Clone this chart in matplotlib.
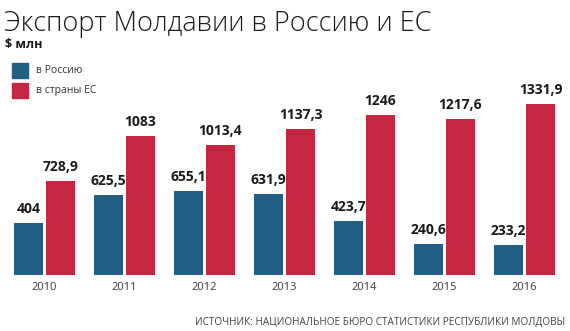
import matplotlib.pyplot as plt
import numpy as np

# данные
years = ['2010', '2011', '2012', '2013', '2014', '2015', '2016']
russia = [404, 625.5, 655.1, 631.9, 423.7, 240.6, 233.2]
eu = [728.9, 1083, 1013.4, 1137.3, 1246, 1217.6, 1331.9]
russia_labels = ['404', '625,5', '655,1', '631,9', '423,7', '240,6', '233,2']
eu_labels = ['728,9', '1083', '1013,4', '1137,3', '1246', '1217,6', '1331,9']

BLUE = '#235e84'
RED = '#c52743'

plt.rcParams['font.family'] = ['Open Sans', 'DejaVu Sans']

fig = plt.figure(figsize=(5.7, 3.31), dpi=100)
W, H = 570, 331
ax = fig.add_axes([0, 56 / H, 1, 185 / H])

x = np.arange(len(years))
w = 29 / 80
off = 16 / 80
ax.bar(x - off, russia, width=w, color=BLUE)
ax.bar(x + off, eu, width=w, color=RED)

ax.set_xlim(-44.5 / 80, (W - 44.5) / 80)
ax.set_ylim(0, 185 / 0.1284)
ax.axis('off')

# подписи значений
for i in range(len(years)):
    ax.annotate(russia_labels[i], (x[i] - off, russia[i]), xytext=(0, 5),
                textcoords='offset points', ha='center', va='bottom',
                fontsize=10, fontweight='bold', color='#1a1a1a', annotation_clip=False)
    ax.annotate(eu_labels[i], (x[i] + off, eu[i]), xytext=(0, 5),
                textcoords='offset points', ha='center', va='bottom',
                fontsize=10, fontweight='bold', color='#1a1a1a', annotation_clip=False)
    ax.annotate(years[i], (x[i], 0), xytext=(0, -5), textcoords='offset points',
                ha='center', va='top', fontsize=8, color='#3a3a3a', annotation_clip=False)

# заголовок и легенда
fig.text(4 / W, 1 - 31 / H, 'Экспорт Молдавии в Россию и ЕС', fontsize=19.5,
         fontweight='light', color='#1a1a1a', ha='left', va='baseline')
fig.text(5 / W, 1 - 48 / H, '$ млн', fontsize=9, fontweight='bold',
         color='#1a1a1a', ha='left', va='baseline')

for yy, col, lab in [(63, BLUE, 'в Россию'), (83, RED, 'в страны ЕС')]:
    fig.patches.append(plt.Rectangle((12 / W, 1 - (yy + 15) / H), 16 / W, 15 / H,
                                     transform=fig.transFigure, color=col))
    fig.text(36 / W, 1 - (yy + 7.5) / H, lab, fontsize=7.5, color='#333333',
             ha='left', va='center')

fig.text(565 / W, 1 - 325 / H,
         'ИСТОЧНИК: НАЦИОНАЛЬНОЕ БЮРО СТАТИСТИКИ РЕСПУБЛИКИ МОЛДОВЫ',
         fontsize=7.2, color='#444444', ha='right', va='baseline')

fig.savefig('out.png', dpi=100)
